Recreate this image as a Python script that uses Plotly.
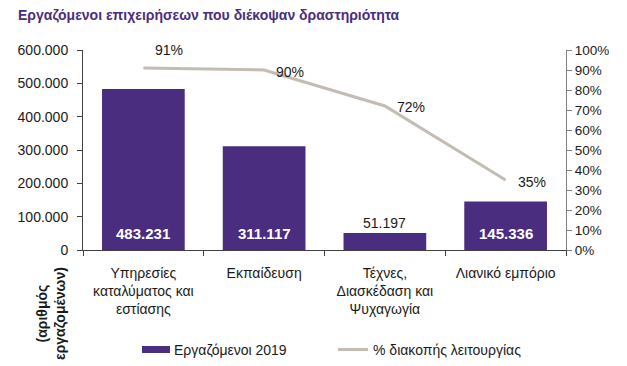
import plotly.graph_objects as go

categories = ["Υπηρεσίες<br>καταλύματος και<br>εστίασης", "Εκπαίδευση",
              "Τέχνες,<br>Διασκέδαση και<br>Ψυχαγωγία", "Λιανικό εμπόριο"]
employees_2019 = [483231, 311117, 51197, 145336]
pct_closure = [0.91, 0.90, 0.72, 0.35]
left_ticks = [0, 100000, 200000, 300000, 400000, 500000, 600000]

title_text = "Εργαζόμενοι επιχειρήσεων που διέκοψαν δραστηριότητα"
yaxis_title = "(αριθμός<br>εργαζομένων)"
bar_name = "Εργαζόμενοι 2019"
line_name = "% διακοπής λειτουργίας"

W, H = 627, 366
ML, MR, MT, MB = 83, 61, 50, 116
PW, PH = W - ML - MR, H - MT - MB

PURPLE = "#4B2D7F"
GREY_LINE = "#C3BCB3"
FONT = "Liberation Sans"
TXT = "#1a1a1a"


def fmt_thousands(v):
    return f"{v:,}".replace(",", ".")


def px_x(px):
    return (px - ML) / PW


def px_y(py):
    return (H - MB - py) / PH


fig = go.Figure()
fig.add_trace(go.Bar(x=categories, y=employees_2019, name=bar_name,
                     marker=dict(color=PURPLE, line=dict(width=0)),
                     yaxis="y", showlegend=False, hoverinfo="skip"))
fig.add_trace(go.Scatter(x=categories, y=pct_closure, name=line_name,
                         mode="lines", line=dict(color=GREY_LINE, width=3),
                         yaxis="y2", showlegend=False, hoverinfo="skip"))

annotations = []
for c, v in zip(categories, employees_2019):
    if v >= 100000:
        annotations.append(dict(x=c, y=0, xref="x", yref="y", text=fmt_thousands(v),
                                showarrow=False, yanchor="bottom", yshift=6,
                                font=dict(family=FONT, size=15, color="white", weight="bold")))
    else:
        annotations.append(dict(x=c, y=v, xref="x", yref="y", text=fmt_thousands(v),
                                showarrow=False, yanchor="bottom", yshift=0,
                                font=dict(family=FONT, size=14, color=TXT)))

line_label_yshift = [18, -2, -1, -2]
for c, p, ys in zip(categories, pct_closure, line_label_yshift):
    annotations.append(dict(x=c, y=p, xref="x", yref="y2", text=f"{round(p*100)}%",
                            showarrow=False, xshift=26, yshift=ys,
                            font=dict(family=FONT, size=14, color=TXT)))

# rotated axis title (below the value axis, bottom-left)
annotations.append(dict(x=px_x(51), y=px_y(314), xref="paper", yref="paper",
                        xanchor="center", yanchor="middle",
                        text=yaxis_title, showarrow=False, textangle=-90,
                        font=dict(family=FONT, size=14, color=TXT, weight="bold")))

# manual legend (Excel style swatches)
annotations.append(dict(x=px_x(172), y=px_y(350), xref="paper", yref="paper",
                        xanchor="left", yanchor="middle", text=bar_name, showarrow=False,
                        font=dict(family=FONT, size=14, color=TXT)))
annotations.append(dict(x=px_x(371), y=px_y(350), xref="paper", yref="paper",
                        xanchor="left", yanchor="middle", text=line_name, showarrow=False,
                        font=dict(family=FONT, size=14, color=TXT)))
shapes = [
    dict(type="rect", xref="paper", yref="paper", x0=px_x(142), x1=px_x(170),
         y0=px_y(346), y1=px_y(353), fillcolor=PURPLE, line=dict(width=0)),
    dict(type="line", xref="paper", yref="paper", x0=px_x(338), x1=px_x(368),
         y0=px_y(349.5), y1=px_y(349.5), line=dict(color=GREY_LINE, width=3)),
]

fig.update_layout(
    width=W, height=H,
    margin=dict(l=ML, r=MR, t=MT, b=MB, autoexpand=False),
    paper_bgcolor="white", plot_bgcolor="white",
    separators=",.",
    hovermode=False,
    font=dict(family=FONT, size=14, color=TXT),
    title=dict(text=title_text, x=18 / W, xref="container", xanchor="left",
               y=1 - 15 / H, yref="container", yanchor="middle",
               font=dict(family=FONT, size=14, color=PURPLE, weight="bold")),
    bargap=0.315,
    showlegend=False,
    xaxis=dict(type="category", showline=True, linecolor="#404040", linewidth=1,
               ticks="outside", tickson="boundaries", ticklen=5, tickcolor="#404040",
               ticklabelstandoff=10, automargin=False,
               showgrid=False, tickfont=dict(family=FONT, size=14, color=TXT)),
    yaxis=dict(range=[0, 600000], tickvals=left_ticks, tickformat=",d",
               showline=True, linecolor="#404040", linewidth=1,
               ticks="outside", ticklen=5, tickcolor="#404040", showgrid=False,
               ticklabelstandoff=6, automargin=False,
               zeroline=False, tickfont=dict(family=FONT, size=14, color=TXT)),
    yaxis2=dict(range=[0, 1], dtick=0.1, tickformat=".0%", overlaying="y", side="right",
                showline=True, linecolor="#808080", linewidth=1,
                ticks="outside", ticklen=5, tickcolor="#808080", showgrid=False,
                automargin=False,
                zeroline=False, tickfont=dict(family=FONT, size=13.5, color=TXT)),
    annotations=annotations,
    shapes=shapes,
)

fig.write_html("out.html", config={"displayModeBar": False},
               post_script="document.body.style.margin='0';")
